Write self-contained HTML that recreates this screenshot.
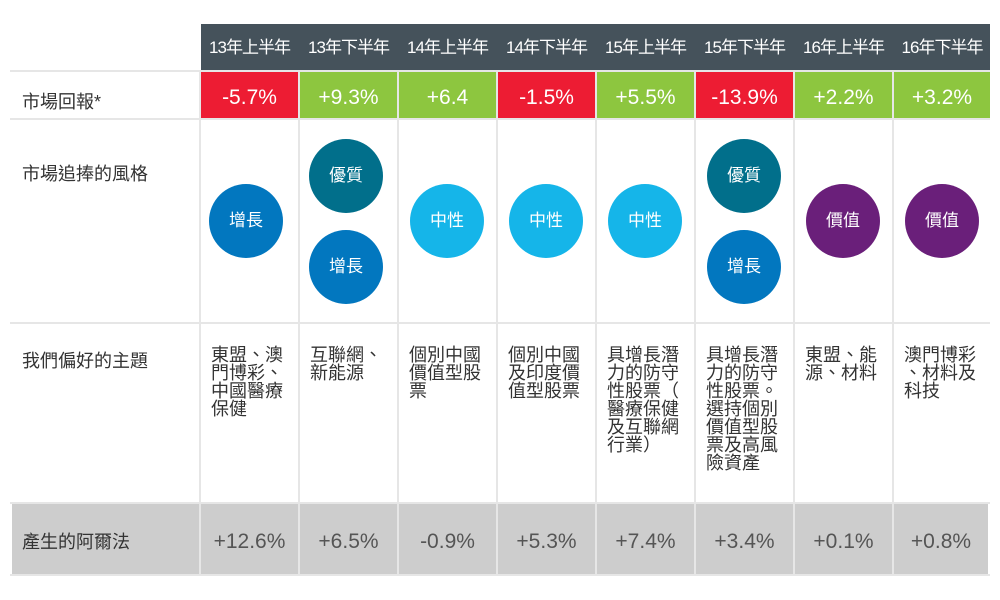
<!DOCTYPE html><html><head><meta charset="utf-8"><style>
body{margin:0;width:1000px;height:600px;background:#fff;position:relative;overflow:hidden;font-family:"Liberation Sans","Noto Sans CJK TC",sans-serif}
div{position:absolute;box-sizing:border-box}
.h{background:#45525b;color:#fff;font-size:17px;top:24px;height:46px;line-height:48px;text-align:center;letter-spacing:-1px}
.r{top:72px;height:46px;line-height:52px;color:#fff;font-size:21px;text-align:center}
.s{top:120px;height:202px;background:#fff}
.t{top:324px;height:178px;font-size:18px;line-height:18px;color:#333;padding:22px 0 0 10px}
.a{top:504px;height:70px;line-height:76px;background:#cdcdcd;color:#555;font-size:21px;text-align:center}
.c{width:74px;height:74px;border-radius:50%;color:#fff;font-size:17px;line-height:74px;text-align:center}
.l{left:22px;font-size:18px;color:#333}
.line{background:#e6e6e6}
</style></head><body>
<div class="line" style="left:10px;top:70px;width:980px;height:2px"></div>
<div class="line" style="left:10px;top:118px;width:980px;height:2px"></div>
<div class="line" style="left:10px;top:322px;width:980px;height:2px"></div>
<div class="line" style="left:10px;top:502px;width:980px;height:2px"></div>
<div class="line" style="left:10px;top:574px;width:980px;height:2px"></div>
<div class="line" style="left:199px;top:72px;width:2px;height:502px"></div>
<div class="a" style="left:12px;width:187px;text-align:left;padding-left:10px;color:#333;font-size:18px">產生的阿爾法</div>
<div class="l" style="top:88px">市場回報*</div>
<div class="l" style="top:160px">市場追捧的風格</div>
<div class="l" style="top:347px">我們偏好的主題</div>

<div class="h" style="left:201px;width:789px"></div>
<div class="h" style="left:201px;width:97px">13年上半年</div>
<div class="h" style="left:300px;width:97px">13年下半年</div>
<div class="h" style="left:399px;width:97px">14年上半年</div>
<div class="h" style="left:498px;width:97px">14年下半年</div>
<div class="h" style="left:597px;width:97px">15年上半年</div>
<div class="h" style="left:696px;width:97px">15年下半年</div>
<div class="h" style="left:795px;width:97px">16年上半年</div>
<div class="h" style="left:894px;width:96px">16年下半年</div>

<div class="line" style="left:298px;top:72px;width:2px;height:502px"></div>
<div class="line" style="left:397px;top:72px;width:2px;height:502px"></div>
<div class="line" style="left:496px;top:72px;width:2px;height:502px"></div>
<div class="line" style="left:595px;top:72px;width:2px;height:502px"></div>
<div class="line" style="left:694px;top:72px;width:2px;height:502px"></div>
<div class="line" style="left:793px;top:72px;width:2px;height:502px"></div>
<div class="line" style="left:892px;top:72px;width:2px;height:502px"></div>

<div class="r" style="left:201px;width:97px;background:#ed1c33">-5.7%</div>
<div class="r" style="left:300px;width:97px;background:#8dc63f">+9.3%</div>
<div class="r" style="left:399px;width:97px;background:#8dc63f">+6.4</div>
<div class="r" style="left:498px;width:97px;background:#ed1c33">-1.5%</div>
<div class="r" style="left:597px;width:97px;background:#8dc63f">+5.5%</div>
<div class="r" style="left:696px;width:97px;background:#ed1c33">-13.9%</div>
<div class="r" style="left:795px;width:97px;background:#8dc63f">+2.2%</div>
<div class="r" style="left:894px;width:96px;background:#8dc63f">+3.2%</div>

<div class="c" style="left:209px;top:184px;background:#0277bf">增長</div>
<div class="c" style="left:309px;top:139px;background:#016f8b">優質</div>
<div class="c" style="left:309px;top:230px;background:#0277bf">增長</div>
<div class="c" style="left:410px;top:184px;background:#15b5e9">中性</div>
<div class="c" style="left:509px;top:184px;background:#15b5e9">中性</div>
<div class="c" style="left:608px;top:184px;background:#15b5e9">中性</div>
<div class="c" style="left:707px;top:139px;background:#016f8b">優質</div>
<div class="c" style="left:707px;top:230px;background:#0277bf">增長</div>
<div class="c" style="left:806px;top:184px;background:#6a1f7a">價值</div>
<div class="c" style="left:905px;top:184px;background:#6a1f7a">價值</div>

<div class="t" style="left:201px">東盟、澳<br>門博彩、<br>中國醫療<br>保健</div>
<div class="t" style="left:300px">互聯網、<br>新能源</div>
<div class="t" style="left:399px">個別中國<br>價值型股<br>票</div>
<div class="t" style="left:498px">個別中國<br>及印度價<br>值型股票</div>
<div class="t" style="left:597px">具增長潛<br>力的防守<br>性股票（<br>醫療保健<br>及互聯網<br>行業）</div>
<div class="t" style="left:696px">具增長潛<br>力的防守<br>性股票。<br>選持個別<br>價值型股<br>票及高風<br>險資產</div>
<div class="t" style="left:795px">東盟、能<br>源、材料</div>
<div class="t" style="left:894px">澳門博彩<br>、材料及<br>科技</div>

<div class="a" style="left:201px;width:97px">+12.6%</div>
<div class="a" style="left:300px;width:97px">+6.5%</div>
<div class="a" style="left:399px;width:97px">-0.9%</div>
<div class="a" style="left:498px;width:97px">+5.3%</div>
<div class="a" style="left:597px;width:97px">+7.4%</div>
<div class="a" style="left:696px;width:97px">+3.4%</div>
<div class="a" style="left:795px;width:97px">+0.1%</div>
<div class="a" style="left:894px;width:94px">+0.8%</div>
</body></html>
